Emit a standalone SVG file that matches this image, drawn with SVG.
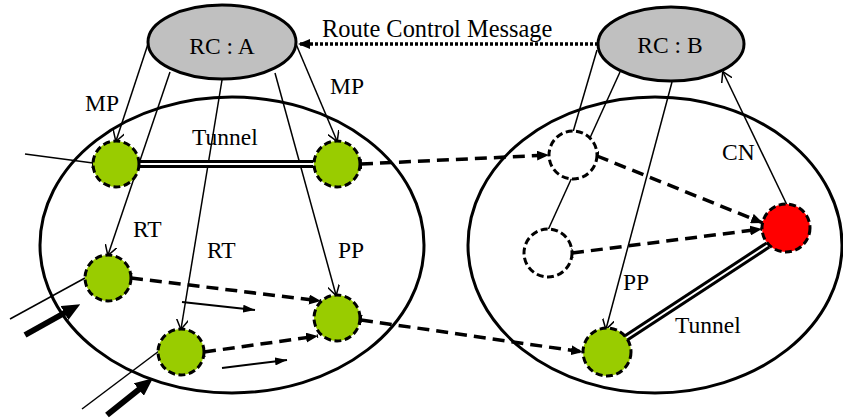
<svg xmlns="http://www.w3.org/2000/svg" width="843" height="418" viewBox="0 0 843 418">
  <style>
    text { font-family: 'Liberation Serif', 'DejaVu Serif', serif; font-size: 23.5px; fill: #000; }
    .domain { fill: none; stroke: #000; stroke-width: 3; }
    .rc { fill: #C0C0C0; stroke: #000; stroke-width: 3; }
    .node { stroke: #000; stroke-width: 3; stroke-dasharray: 7 3.5; }
    .green { fill: #99CC00; }
    .red { fill: #FF0000; }
    .empty { fill: #FFFFFF; }
    .thin { fill: none; stroke: #000; stroke-width: 1.5; }
    .dash { fill: none; stroke: #000; stroke-width: 3.5; stroke-dasharray: 12 7; }
    .dot { fill: none; stroke: #000; stroke-width: 3.5; stroke-dasharray: 3 2; }
    .tunOuter { fill: none; stroke: #000; stroke-width: 8; }
    .tunInner { fill: none; stroke: #FFF; stroke-width: 2; }
    .flow { fill: none; stroke: #000; stroke-width: 2; }
    .fat { fill: none; stroke: #000; stroke-width: 6; }
  </style>
  <defs>
    <marker id="open" viewBox="0 0 10 12" refX="9.5" refY="6" markerWidth="10" markerHeight="12" markerUnits="userSpaceOnUse" orient="auto">
      <path d="M0,0 L10,6 L0,12" fill="none" stroke="#000" stroke-width="1.5"/>
    </marker>
    <marker id="tri" viewBox="0 0 12 10" refX="12" refY="5" markerWidth="12" markerHeight="10" markerUnits="userSpaceOnUse" orient="auto">
      <path d="M0,0 L12,5 L0,10 Z" fill="#000"/>
    </marker>
    <marker id="small" viewBox="0 0 12 8" refX="12" refY="4" markerWidth="12" markerHeight="8" markerUnits="userSpaceOnUse" orient="auto">
      <path d="M0,0 L12,4 L0,8 Z" fill="#000"/>
    </marker>
    <marker id="bar" viewBox="0 0 2 10" refX="1" refY="5" markerWidth="2" markerHeight="10" markerUnits="userSpaceOnUse" orient="auto">
      <rect x="0" y="0" width="2" height="10" fill="#000"/>
    </marker>
    <marker id="big" viewBox="0 0 18 16" refX="4" refY="8" markerWidth="18" markerHeight="16" markerUnits="userSpaceOnUse" orient="auto">
      <path d="M0,0 L18,8 L0,16 Z" fill="#000"/>
    </marker>
  </defs>

  <!-- routing domains -->
  <g id="domain-a"><ellipse class="domain" cx="232" cy="245" rx="192" ry="148"/></g>
  <g id="domain-b"><ellipse class="domain" cx="655" cy="245" rx="187" ry="148"/></g>

  <!-- connectors -->
  <g id="connectors">
    <!-- route control message -->
    <line class="dot" x1="598" y1="44" x2="298" y2="44" marker-end="url(#tri)"/>
    <!-- RC:A control links -->
    <line class="thin" x1="148" y1="44" x2="116" y2="141" marker-end="url(#open)"/>
    <line class="thin" x1="170" y1="72" x2="108" y2="255" marker-end="url(#open)"/>
    <line class="thin" x1="222" y1="80" x2="181" y2="329" marker-end="url(#open)"/>
    <line class="thin" x1="275" y1="73" x2="336" y2="295" marker-end="url(#open)"/>
    <line class="thin" x1="296" y1="44" x2="337" y2="141" marker-end="url(#open)"/>
    <!-- RC:B control links -->
    <line class="thin" x1="597" y1="50" x2="573" y2="132"/>
    <line class="thin" x1="620" y1="72" x2="548" y2="230"/>
    <line class="thin" x1="672" y1="82" x2="606" y2="329" marker-end="url(#open)"/>
    <line class="thin" x1="787" y1="205" x2="723" y2="72" marker-end="url(#open)"/>
    <!-- tunnels -->
    <line class="tunOuter" x1="139" y1="164" x2="313" y2="164"/>
    <line class="tunInner" x1="139" y1="164" x2="313" y2="164"/>
    <line class="tunOuter" x1="626" y1="338" x2="768" y2="245"/>
    <line class="tunInner" x1="626" y1="338" x2="768" y2="245"/>
    <!-- data paths -->
    <line class="dash" x1="361" y1="164" x2="549" y2="155" marker-start="url(#bar)" marker-end="url(#tri)"/>
    <line class="dash" x1="597" y1="156" x2="763" y2="223" marker-start="url(#bar)" marker-end="url(#tri)"/>
    <line class="dash" x1="572" y1="253" x2="762" y2="229" marker-start="url(#bar)" marker-end="url(#tri)"/>
    <line class="dash" x1="131" y1="278" x2="321" y2="301" marker-start="url(#bar)" marker-end="url(#tri)"/>
    <line class="dash" x1="204" y1="352" x2="318" y2="336" marker-start="url(#bar)" marker-end="url(#tri)"/>
    <line class="dash" x1="361" y1="320" x2="583" y2="352" marker-start="url(#bar)" marker-end="url(#tri)"/>
    <!-- ingress traffic -->
    <line class="thin" x1="25" y1="154" x2="93" y2="163" marker-end="url(#bar)"/>
    <line class="thin" x1="10" y1="319" x2="85" y2="278"/>
    <line class="thin" x1="82" y1="409" x2="159" y2="351"/>
    <line class="fat" x1="25" y1="335" x2="68" y2="311" marker-end="url(#big)"/>
    <line class="fat" x1="107" y1="415" x2="142" y2="387" marker-end="url(#big)"/>
    <!-- flow direction -->
    <line class="flow" x1="182" y1="302" x2="255" y2="310" marker-end="url(#small)"/>
    <line class="flow" x1="222" y1="368" x2="287" y2="360" marker-end="url(#small)"/>
  </g>

  <!-- route controllers -->
  <g id="rc-a">
    <ellipse class="rc" cx="222" cy="42" rx="74" ry="37"/>
    <text x="222" y="54" text-anchor="middle">RC : A</text>
  </g>
  <g id="rc-b">
    <ellipse class="rc" cx="671" cy="44" rx="73" ry="37"/>
    <text x="670" y="53" text-anchor="middle">RC : B</text>
  </g>

  <!-- domain A routers -->
  <g id="a-ingress"><circle class="node green" cx="116" cy="164" r="23"/></g>
  <g id="a-egress"><circle class="node green" cx="337" cy="164" r="23"/></g>
  <g id="a-rt1"><circle class="node green" cx="108" cy="278" r="23"/></g>
  <g id="a-rt2"><circle class="node green" cx="181" cy="352" r="23"/></g>
  <g id="a-pp"><circle class="node green" cx="337" cy="318" r="23"/></g>

  <!-- domain B routers -->
  <g id="b-top"><circle class="node empty" cx="573" cy="155" r="24"/></g>
  <g id="b-low"><circle class="node empty" cx="548" cy="253" r="24"/></g>
  <g id="b-cn"><circle class="node red" cx="786" cy="228" r="24"/></g>
  <g id="b-pp"><circle class="node green" cx="607" cy="352" r="24"/></g>

  <!-- labels -->
  <g id="labels">
    <text x="322" y="37" style="font-size:24.4px">Route Control Message</text>
    <text x="85" y="111">MP</text>
    <text x="330" y="94">MP</text>
    <text x="192" y="145">Tunnel</text>
    <text x="722" y="160">CN</text>
    <text x="133" y="237">RT</text>
    <text x="207" y="258">RT</text>
    <text x="338" y="258">PP</text>
    <text x="623" y="290">PP</text>
    <text x="675" y="333">Tunnel</text>
  </g>
</svg>
